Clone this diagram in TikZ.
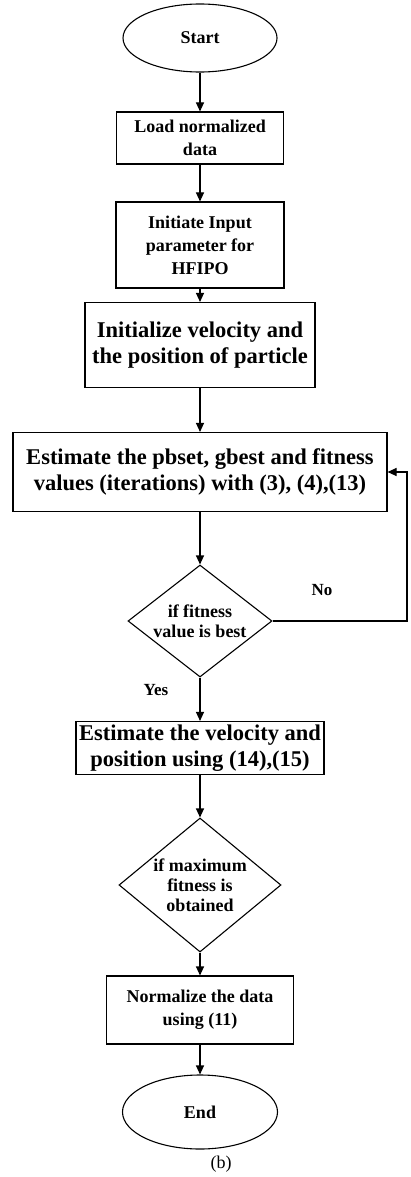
\documentclass[tikz,border=0pt]{standalone}
\usepackage{fontspec}
\setmainfont{Liberation Serif}
\usetikzlibrary{shapes.geometric,arrows.meta}

\tikzset{
  flow/.style={draw, line width=1.1pt, align=center, font=\bfseries\fontsize{18}{23}\selectfont},
  term/.style={flow, ellipse, inner sep=0pt},
  procbox/.style={flow, rectangle, inner sep=2pt},
  bigbox/.style={procbox, font=\bfseries\fontsize{22.5}{26}\selectfont},
  decide/.style={flow, diamond, inner sep=0pt, font=\bfseries\fontsize{18}{20}\selectfont},
  arr/.style={line width=1.1pt, -{Triangle[width=8pt,length=9pt]}},
  lbl/.style={font=\bfseries\fontsize{17}{19}\selectfont}
}

\begin{document}
\begin{tikzpicture}[x=1pt,y=1pt,yscale=-1]
\useasboundingbox (0,0) rectangle (411,1177);

%Shape: Ellipse [start]
\node[term, minimum width=154, minimum height=68] (start) at (200,38) {Start};
%Shape: Rectangle [load]
\node[procbox, minimum width=167, minimum height=52] (load) at (200,138) {Load normalized\\data};
%Shape: Rectangle [param]
\node[procbox, minimum width=168, minimum height=86] (param) at (200,245) {Initiate Input\\parameter for\\HFIPO};
%Shape: Rectangle [init]
\node[bigbox, minimum width=230, minimum height=85] (init) at (200,345) {Initialize velocity and\\the position of particle};
%Shape: Rectangle [est]
\node[bigbox, minimum width=374, minimum height=79] (est) at (200,472) {Estimate the pbset, gbest and fitness\\values (iterations) with (3), (4),(13)};
%Shape: Diamond [fit]
\node[decide, aspect=1.29, minimum width=144, minimum height=112] (fit) at (200,621) {if fitness\\value is best};
%Shape: Rectangle [upd]
\node[bigbox, minimum width=248, minimum height=53] (upd) at (200,748) {Estimate the velocity and\\position using (14),(15)};
%Shape: Diamond [maxfit]
\node[decide, aspect=1.21, minimum width=162, minimum height=134] (maxfit) at (200,885) {if maximum\\fitness is\\obtained};
%Shape: Rectangle [norm]
\node[procbox, minimum width=187, minimum height=68] (norm) at (200,1010) {Normalize the data\\using (11)};
%Shape: Ellipse [stop]
\node[term, minimum width=155, minimum height=74] (stop) at (200,1112) {End};

%Straight Lines
\draw[arr] (start) -- (load);
\draw[arr] (load) -- (param);
\draw[arr] (param) -- (init);
\draw[arr] (init) -- (est);
\draw[arr] (est) -- (fit);
\draw[arr] (fit) -- (upd);
\draw[arr] (upd) -- (maxfit);
\draw[arr] (maxfit) -- (norm);
\draw[arr] (norm) -- (stop);

%Straight Lines [loop back]
\coordinate (back) at (407,621);
\draw[arr] (fit.east) -- (back) |- (est.east);

% Text Node
\node[lbl] (no) at (322,590) {No};
% Text Node
\node[lbl] (yes) at (156,690) {Yes};
% Text Node
\node[font=\fontsize{18}{20}\selectfont] (cap) at (221,1164) {(b)};

\end{tikzpicture}
\end{document}
